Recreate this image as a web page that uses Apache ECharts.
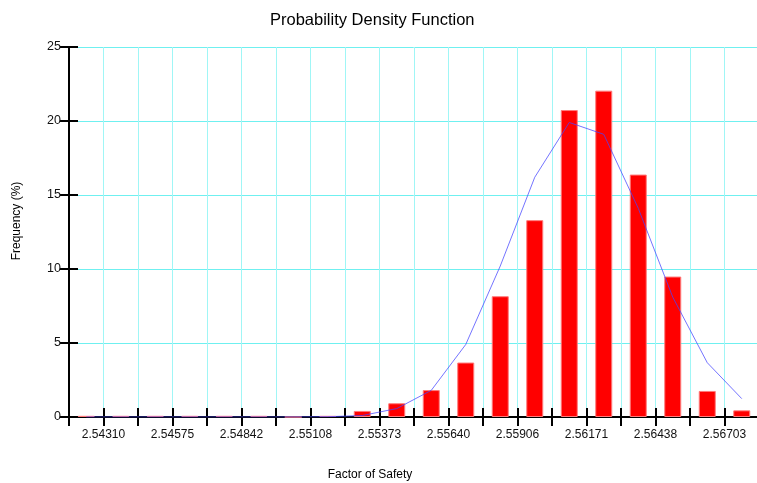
<!DOCTYPE html>
<html>
<head>
<meta charset="utf-8">
<script src="https://cdn.jsdelivr.net/npm/echarts@6/dist/echarts.min.js"></script>
<style>
  html, body { margin: 0; padding: 0; background: #fff; }
  #chart { width: 757px; height: 483px; }
</style>
</head>
<body>
<div id="chart"></div>
<script>
// bin boundaries that carry a label (every other boundary, starting at the first)
const tickLabels = ['2.54310', '2.54575', '2.54842', '2.55108', '2.55373',
                    '2.55640', '2.55906', '2.56171', '2.56438', '2.56703'];

// histogram, one value per bin (20 bins)
const barValues = [0.08, 0.08, 0.08, 0.08, 0.08, 0.08, 0, 0.08,
                   0.41, 0.93, 1.82, 3.68, 8.16, 13.3, 20.74, 22.05,
                   16.38, 9.49, 1.76, 0.45];

// fitted density curve at the bin centres
const curveValues = [0, 0, 0, 0, 0, 0, 0, 0.02,
                     0.1, 0.57, 1.8, 4.9, 10.2, 16.2, 19.9, 19.1,
                     14.1, 8.1, 3.67, 1.24];

const binCount = barValues.length;

const chart = echarts.init(document.getElementById('chart'));

const gridCol = '#a0f6f6';
const hGridCol = '#6ff0f0';
const font = 'Liberation Sans, Arial, sans-serif';

chart.setOption({
    animation: false,
    backgroundColor: '#fff',
    title: {
        text: 'Probability Density Function',
        left: 265,
        top: 7,
        textStyle: { fontFamily: font, fontSize: 16.5, fontWeight: 'normal', color: '#000' }
    },
    grid: { left: 69, right: -2, top: 47, bottom: 66, containLabel: false, outerBoundsMode: 'none' },
    xAxis: [{
        type: 'value',
        min: 0,
        max: binCount,
        interval: 1,
        name: 'Factor of Safety',
        nameLocation: 'middle',
        nameGap: 52,
        nameTextStyle: { fontFamily: font, fontSize: 12, color: '#000', padding: [0, 88, 0, 0] },
        axisLine: { onZero: false, lineStyle: { color: '#000', width: 2 } },
        axisTick: { show: true, length: 9, lineStyle: { color: '#000', width: 2 } },
        axisLabel: {
            margin: 12,
            fontFamily: font, fontSize: 12, color: '#111',
            formatter: v => (v % 2 === 1 ? tickLabels[(v - 1) / 2] : '')
        },
        splitLine: { show: true, lineStyle: { color: gridCol, width: 1 } }
    }, {
        type: 'value',
        min: 0,
        max: binCount,
        interval: 1,
        position: 'bottom',
        axisLine: { show: false },
        axisTick: { show: true, inside: true, length: 9, lineStyle: { color: '#000', width: 2 } },
        axisLabel: { show: false },
        splitLine: { show: false }
    }],
    yAxis: [{
        type: 'value',
        min: 0,
        max: 25,
        interval: 5,
        name: 'Frequency (%)',
        nameLocation: 'middle',
        nameGap: 46,
        nameTextStyle: { fontFamily: font, fontSize: 12, color: '#000', padding: [0, 0, 0, 22] },
        axisLine: { show: true, lineStyle: { color: '#000', width: 2 } },
        axisTick: { show: true, length: 9, lineStyle: { color: '#000', width: 2 } },
        axisLabel: { margin: 8, fontFamily: font, fontSize: 12.5, color: '#111' },
        splitLine: { show: true, lineStyle: { color: hGridCol, width: 1 } }
    }, {
        type: 'value',
        min: 0,
        max: 25,
        interval: 5,
        position: 'left',
        axisLine: { show: false },
        axisTick: { show: true, inside: true, length: 9, lineStyle: { color: '#000', width: 2 } },
        axisLabel: { show: false },
        splitLine: { show: false }
    }],
    series: [{
        type: 'bar',
        xAxisIndex: 0,
        yAxisIndex: 0,
        barWidth: 17,
        data: barValues.map((v, i) => [i + 0.5, v]),
        itemStyle: { color: '#ff0000', borderColor: '#ff7a7a', borderWidth: 1 },
        z: 3
    }, {
        type: 'line',
        xAxisIndex: 0,
        yAxisIndex: 0,
        data: curveValues.map((v, i) => [i + 0.5, v]),
        showSymbol: false,
        symbol: 'none',
        lineStyle: { color: 'rgba(70,70,255,0.75)', width: 1 },
        z: 4
    }]
});
</script>
</body>
</html>
